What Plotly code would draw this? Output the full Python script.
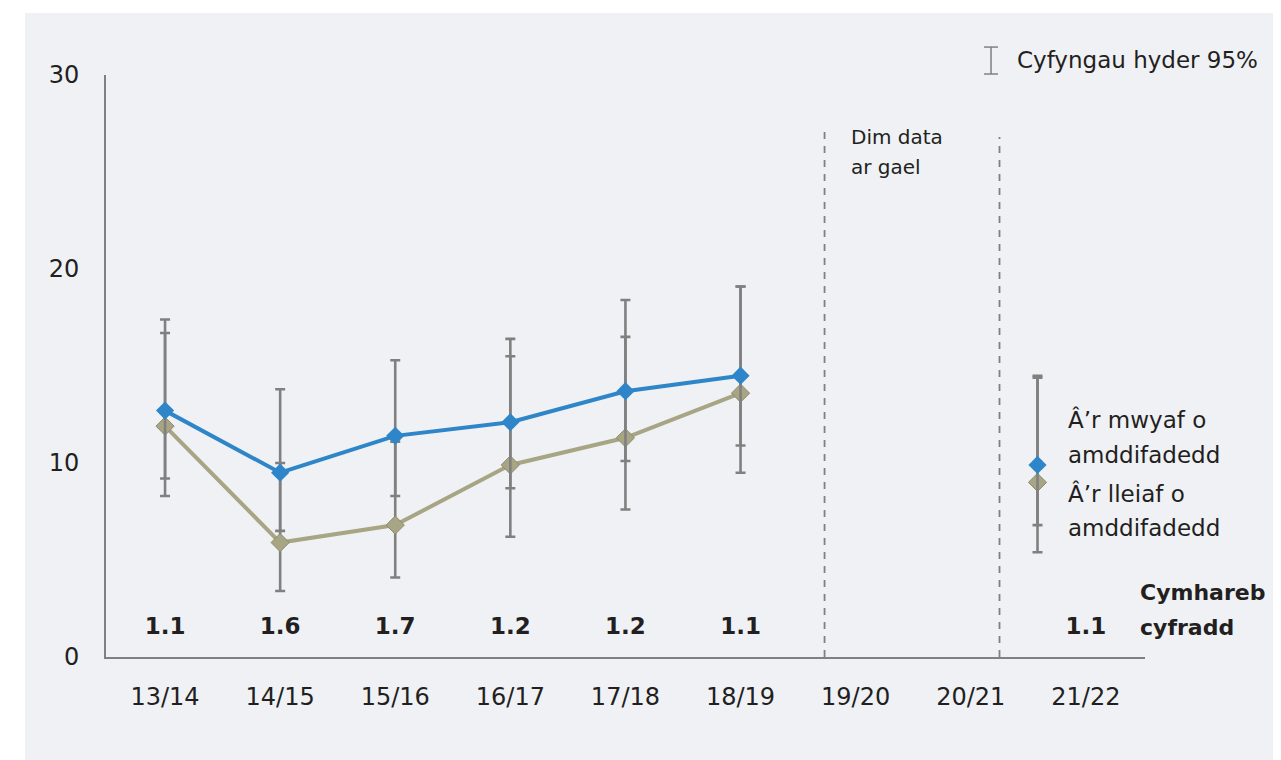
import numpy as np
import plotly.graph_objects as go

# rates per year
years = ["13/14", "14/15", "15/16", "16/17", "17/18", "18/19", "19/20", "20/21", "21/22"]

most_deprived = [12.7, 9.5, 11.4, 12.1, 13.7, 14.5]
most_upper = [17.4, 13.8, 15.3, 16.4, 18.4, 19.1]
most_lower = [9.2, 6.5, 8.3, 8.7, 10.1, 10.9]

least_deprived = [11.9, 5.9, 6.8, 9.9, 11.3, 13.6]
least_upper = [16.7, 10.0, 11.1, 15.5, 16.5, 19.1]
least_lower = [8.3, 3.4, 4.1, 6.2, 7.6, 9.5]

# 21/22 values, drawn next to the series labels
latest_most = [9.9]
latest_most_upper = [14.5]
latest_most_lower = [6.8]
latest_least = [9.0]
latest_least_upper = [14.4]
latest_least_lower = [5.4]

rate_ratio = ["1.1", "1.6", "1.7", "1.2", "1.2", "1.1", "", "", "1.1"]

BLUE = "#2e86c8"
KHAKI = "#a8a585"
GREY = "#808080"
TEXT = "#231f20"
PANEL = "#eff1f5"
FONT = "DejaVu Sans"

x_idx = np.arange(len(most_deprived))
latest_x = [len(years) - 1 - 0.42]


def err(vals, up, lo):
    v = np.array(vals)
    return dict(type="data", symmetric=False, array=np.array(up) - v,
                arrayminus=v - np.array(lo), color=GREY, thickness=2.6, width=5)


fig = go.Figure()
fig.add_trace(go.Scatter(x=x_idx, y=least_deprived, mode="lines+markers",
                         line=dict(color=KHAKI, width=4),
                         marker=dict(symbol="diamond", size=14, color=KHAKI,
                                     line=dict(color="#8e8b6c", width=1)),
                         error_y=err(least_deprived, least_upper, least_lower)))
fig.add_trace(go.Scatter(x=x_idx, y=most_deprived, mode="lines+markers",
                         line=dict(color=BLUE, width=4),
                         marker=dict(symbol="diamond", size=14, color=BLUE),
                         error_y=err(most_deprived, most_upper, most_lower)))
fig.add_trace(go.Scatter(x=latest_x, y=latest_least, mode="markers",
                         marker=dict(symbol="diamond", size=14, color=KHAKI,
                                     line=dict(color="#8e8b6c", width=1)),
                         error_y=err(latest_least, latest_least_upper, latest_least_lower)))
fig.add_trace(go.Scatter(x=latest_x, y=latest_most, mode="markers",
                         marker=dict(symbol="diamond", size=14, color=BLUE),
                         error_y=err(latest_most, latest_most_upper, latest_most_lower)))

# rate ratio row
fig.add_trace(go.Scatter(x=np.arange(len(years)), y=[1.5] * len(years), mode="text",
                         text=["<b>%s</b>" % r for r in rate_ratio],
                         textfont=dict(family=FONT, size=23, color=TEXT),
                         cliponaxis=False))

shapes = [
    # grey panel
    dict(type="rect", xref="paper", yref="paper", x0=-0.078, x1=1.3, y0=-0.3, y1=1.1065,
         fillcolor=PANEL, line=dict(width=0), layer="below"),
    # no-data dashed lines
    dict(type="line", xref="x", yref="y", x0=5.73, x1=5.73, y0=0, y1=27.2,
         line=dict(color=GREY, width=1.8, dash="7px,7px")),
    dict(type="line", xref="x", yref="y", x0=7.25, x1=7.25, y0=0, y1=26.8,
         line=dict(color=GREY, width=1.8, dash="7px,7px")),
    # confidence interval legend icon
    dict(type="line", xref="paper", yref="paper", x0=0.8518, x1=0.8518, y0=1.0017, y1=1.048,
         line=dict(color=GREY, width=1.5)),
    dict(type="line", xref="paper", yref="paper", x0=0.8451, x1=0.8585, y0=1.048, y1=1.048,
         line=dict(color=GREY, width=1.5)),
    dict(type="line", xref="paper", yref="paper", x0=0.8451, x1=0.8585, y0=1.0017, y1=1.0017,
         line=dict(color=GREY, width=1.5)),
]

ann_font = dict(family=FONT, size=23, color=TEXT)
bold_font = dict(family=FONT, size=22, color=TEXT)
small_font = dict(family=FONT, size=20, color=TEXT)


def label(x, y, text, font):
    return dict(x=x, y=y, xref="x", yref="y", xanchor="left", yanchor="middle",
                text=text, showarrow=False, font=font)


annotations = [
    dict(x=0.875, y=1.0258, xref="paper", yref="paper", xanchor="left", yanchor="middle",
         text="Cyfyngau hyder 95%", showarrow=False, font=ann_font),
    label(5.943, 26.8, "Dim data", small_font),
    label(5.943, 25.26, "ar gael", small_font),
    label(7.828, 12.22, "Â’r mwyaf o", ann_font),
    label(7.828, 10.41, "amddifadedd", ann_font),
    label(7.828, 8.45, "Â’r lleiaf o", ann_font),
    label(7.828, 6.65, "amddifadedd", ann_font),
    label(8.453, 3.35, "<b>Cymhareb</b>", bold_font),
    label(8.453, 1.5, "<b>cyfradd</b>", bold_font),
]

fig.update_layout(
    width=1273, height=752,
    margin=dict(l=98, r=136, t=67, b=103),
    paper_bgcolor="white",
    plot_bgcolor="rgba(0,0,0,0)",
    showlegend=False,
    font=dict(family=FONT, size=23, color=TEXT),
    shapes=shapes,
    annotations=annotations,
)
fig.update_xaxes(range=[-0.513, 8.514], tickvals=list(range(len(years))), ticktext=years,
                 showgrid=False, zeroline=False, showline=True, linecolor=GREY, linewidth=2,
                 ticks="", ticklabelstandoff=17, tickfont=dict(size=24))
fig.update_yaxes(range=[0, 30], tickvals=[0, 10, 20, 30], showgrid=False, zeroline=False,
                 showline=True, linecolor=GREY, linewidth=2, ticks="", ticklabelstandoff=20,
                 tickfont=dict(size=24))

fig.write_html("out.html")
